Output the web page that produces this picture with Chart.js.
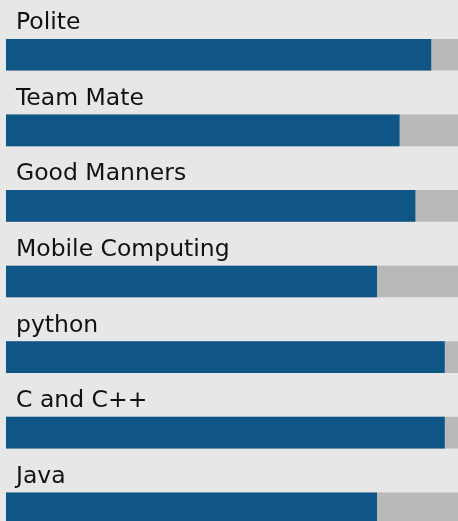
<!DOCTYPE html>
<html>
<head>
<meta charset="utf-8">
<script src="https://cdn.jsdelivr.net/npm/chart.js@4"></script>
<style>
  html, body { margin: 0; padding: 0; background: #e7e7e7; }
  #wrap { width: 458px; height: 521px; overflow: hidden; }
  #wrap canvas { display: block; }
</style>
</head>
<body>
<div id="wrap"><canvas id="skills" width="458" height="547"></canvas></div>
<script>
'use strict';
let skills = ['Polite', 'Team Mate', 'Good Manners', 'Mobile Computing', 'python', 'C and C++', 'Java'];
let levels = [94, 87, 90.5, 82, 97, 97, 82];
let full = [100, 100, 100, 100, 100, 100, 100];

// writes each skill name just above its bar
let skillLabels = {
    id: 'skillLabels',
    afterDatasetsDraw(chart) {
        let ctx = chart.ctx;
        let meta = chart.getDatasetMeta(1);
        ctx.save();
        ctx.fillStyle = '#111111';
        ctx.font = '23.5px "DejaVu Sans"';
        ctx.textBaseline = 'alphabetic';
        ctx.textAlign = 'left';
        for (let i = 0; i < meta.data.length; i++) {
            let bar = meta.data[i];
            let top = bar.y - bar.height / 2;
            ctx.fillText(chart.data.labels[i], 16, top - 10);
        }
        ctx.restore();
    }
};

let ctx = document.getElementById('skills').getContext('2d');
let skillChart = new Chart(ctx, {
    type: 'bar',
    data: {
        labels: skills,
        datasets: [{
            label: 'level',
            data: levels,
            backgroundColor: '#0f5585',
            borderWidth: 0,
            barThickness: 31,
            grouped: false,
            order: 1
        }, {
            label: 'full',
            data: full,
            backgroundColor: '#b9b9b9',
            borderWidth: 0,
            barThickness: 31,
            grouped: false,
            order: 2
        }]
    },
    options: {
        indexAxis: 'y',
        responsive: false,
        animation: false,
        layout: { padding: { left: 6, right: 0, top: 17, bottom: 1 } },
        scales: {
            x: { display: false, min: 0, max: 100 },
            y: { display: false }
        },
        plugins: {
            legend: { display: false },
            tooltip: { enabled: false }
        }
    },
    plugins: [skillLabels]
});
</script>
</body>
</html>
